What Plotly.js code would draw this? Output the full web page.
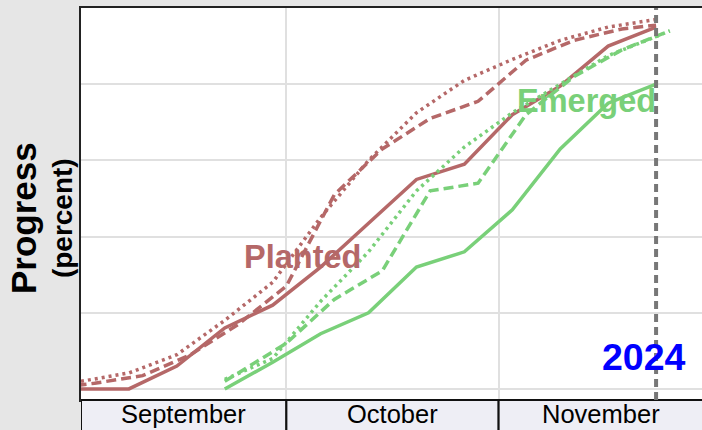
<!DOCTYPE html>
<html>
<head>
<meta charset="utf-8">
<script src="https://cdn.plot.ly/plotly-3.0.1.min.js"></script>
<style>
html,body{margin:0;padding:0;overflow:hidden;background:#e6e6e6;width:702px;height:430px;}
#chart{width:704px;height:430px;}
</style>
</head>
<body>
<div id="chart"></div>
<script>
// ---- data (percent complete) ----
const weeks2024 = ['2024-09-01','2024-09-08','2024-09-15','2024-09-22','2024-09-29','2024-10-06','2024-10-13','2024-10-20','2024-10-27','2024-11-03','2024-11-10','2024-11-17','2024-11-24'];
const planted2024 = [0, 0, 6, 16, 22, 32, 43.5, 55, 59, 72, 79.5, 90, 95];
const plantedLastYearDates = ['2024-08-27','2024-09-03','2024-09-10','2024-09-17','2024-09-24','2024-10-01','2024-10-08','2024-10-15','2024-10-22','2024-10-29','2024-11-05','2024-11-12','2024-11-19','2024-11-24'];
const plantedLastYear = [0, 1.5, 3.5, 9, 17, 27, 51, 63, 71, 75.5, 86.3, 91.5, 94.5, 95.5];
const plantedAvg = [2, 4.2, 9, 18, 28, 45, 60, 72.5, 81, 86.5, 91.5, 95, 97];

const emergedDates2024 = ['2024-09-22','2024-09-29','2024-10-06','2024-10-13','2024-10-20','2024-10-27','2024-11-03','2024-11-10','2024-11-17','2024-11-24'];
const emerged2024 = [0, 7, 14.5, 20, 32, 36, 47, 63, 75, 80];
const emergedLastYearDates = ['2024-09-22','2024-10-01','2024-10-08','2024-10-15','2024-10-22','2024-10-29','2024-11-05','2024-11-12','2024-11-19','2024-11-26'];
const emergedLastYear = [2, 12, 23.5, 31, 52, 54, 72, 82, 89, 94];
const emergedAvgDates = ['2024-09-22','2024-09-29','2024-10-06','2024-10-13','2024-10-20','2024-10-27','2024-11-03','2024-11-10','2024-11-17','2024-11-24','2024-11-26'];
const emergedAvg = [2.5, 8, 23, 36, 52, 63.5, 72.5, 80, 87.5, 92.5, 94];

const monthStarts = ['2024-09-01','2024-10-01','2024-11-01','2024-12-01'];
const monthNames = ['September','October','November'];
const yTicks = [0, 20, 40, 60, 80, 100];
const yearLabel = '2024';

// ---- styles ----
const RED = '#b56868';
const GREEN = '#79d079';
const FONT = 'Liberation Sans, Arial, sans-serif';

function tr(x, y, color, dash) {
  return {x: x, y: y, type: 'scatter', mode: 'lines', hoverinfo: 'skip',
          line: {color: color, width: 3.5, dash: dash}};
}
const traces = [
  tr(weeks2024, plantedAvg, RED, '3px,4px'),
  tr(plantedLastYearDates, plantedLastYear, RED, '10px,5px'),
  tr(weeks2024, planted2024, RED, 'solid'),
  tr(emergedAvgDates, emergedAvg, GREEN, '3px,4px'),
  tr(emergedLastYearDates, emergedLastYear, GREEN, '10px,5px'),
  tr(emergedDates2024, emerged2024, GREEN, 'solid')
];

function mid(a, b) {
  const ta = new Date(a + 'T00:00:00Z').getTime(), tb = new Date(b + 'T00:00:00Z').getTime();
  return new Date((ta + tb) / 2).toISOString().replace('T', ' ').slice(0, 19);
}

const shapes = [];
const annotations = [];
for (let i = 0; i < monthNames.length; i++) {
  shapes.push({type: 'rect', xref: 'x', yref: 'paper', x0: monthStarts[i], x1: monthStarts[i + 1],
               y0: -0.12, y1: 0, fillcolor: '#eeeef5', line: {color: '#111', width: 2}, layer: 'above'});
  annotations.push({xref: 'x', yref: 'paper', x: mid(monthStarts[i], monthStarts[i + 1]), y: -0.0355,
                    text: monthNames[i], showarrow: false, xanchor: 'center', yanchor: 'middle',
                    font: {family: FONT, size: 25.5, color: '#000'}});
}
const lastWeek = weeks2024[weeks2024.length - 1];
shapes.push({type: 'line', xref: 'x', yref: 'paper', x0: lastWeek, x1: lastWeek, y0: 0, y1: 1,
             line: {color: '#777777', width: 4, dash: '8px,5px'}, layer: 'above'});

annotations.push({xref: 'x', yref: 'y', x: '2024-10-03 07:00', y: 34.7, text: '<b>Planted</b>', showarrow: false,
                  xanchor: 'center', yanchor: 'middle', font: {family: FONT, size: 32.5, color: RED}});
annotations.push({xref: 'x', yref: 'y', x: '2024-11-24 06:00', y: 75.6, text: '<b>Emerged</b>', showarrow: false,
                  xanchor: 'right', yanchor: 'middle', font: {family: FONT, size: 32.5, color: GREEN}});
annotations.push({xref: 'x', yref: 'y', x: '2024-11-22 05:00', y: 8.3, text: '<b>' + yearLabel + '</b>', showarrow: false,
                  xanchor: 'center', yanchor: 'middle', font: {family: FONT, size: 37.5, color: '#0000ff'}});
annotations.push({xref: 'paper', yref: 'paper', x: -0.0933, y: 0.464, text: '<b>Progress</b>', showarrow: false,
                  textangle: -90, xanchor: 'center', yanchor: 'middle', font: {family: FONT, size: 35, color: '#000'}});
annotations.push({xref: 'paper', yref: 'paper', x: -0.0305, y: 0.464, text: '<b>(percent)</b>', showarrow: false,
                  textangle: -90, xanchor: 'center', yanchor: 'middle', font: {family: FONT, size: 28, color: '#000'}});

const layout = {
  width: 704, height: 430,
  margin: {l: 81, r: 0, t: 8, b: 30},
  paper_bgcolor: '#e6e6e6', plot_bgcolor: '#ffffff',
  showlegend: false,
  xaxis: {type: 'date', range: [monthStarts[0], monthStarts[3]], tickvals: monthStarts,
          showticklabels: false, ticks: '', showgrid: true, gridcolor: '#e0e0e0', gridwidth: 2,
          showline: true, mirror: true, linecolor: '#222', linewidth: 2, zeroline: false, fixedrange: true},
  yaxis: {range: [-2.9, 100], tickvals: yTicks, showticklabels: false, ticks: '', showgrid: true,
          gridcolor: '#e0e0e0', gridwidth: 2, showline: true, mirror: true, linecolor: '#222', linewidth: 2,
          zeroline: false, fixedrange: true},
  shapes: shapes,
  annotations: annotations
};

Plotly.newPlot('chart', traces, layout, {staticPlot: true, displayModeBar: false});
</script>
</body>
</html>
